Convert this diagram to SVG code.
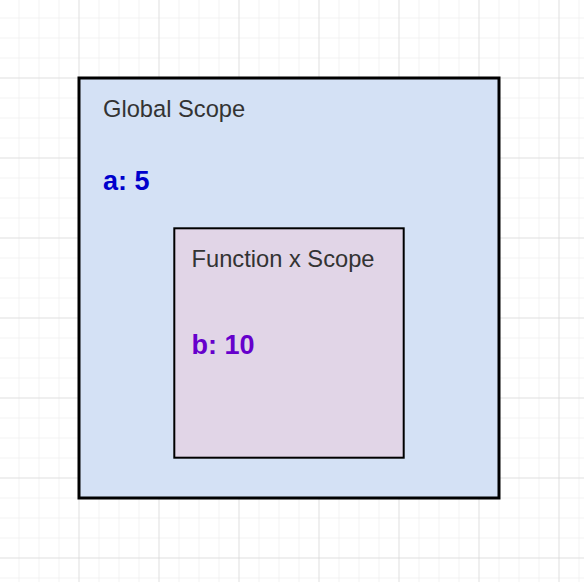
<svg xmlns="http://www.w3.org/2000/svg" width="584" height="582" viewBox="0 0 584 582">
  <defs>
    <pattern id="minor" x="-0.5" y="-1.5" width="20" height="20" patternUnits="userSpaceOnUse">
      <path d="M20 0V20M0 20H20" fill="none" stroke="#f0f0f0" stroke-width="1.5"/>
    </pattern>
    <pattern id="major" x="-0.5" y="-1.5" width="80" height="80" patternUnits="userSpaceOnUse">
      <path d="M80 0V80M0 80H80" fill="none" stroke="#d0d0d0" stroke-width="1"/>
    </pattern>
  </defs>
  <style>
    .label { font-family: "Liberation Sans", Arial, Helvetica, sans-serif; font-size: 23.7px; fill: #333333; }
    .var { font-family: "Liberation Sans", Arial, Helvetica, sans-serif; font-size: 27px; font-weight: bold; }
  </style>
  <rect width="584" height="582" fill="#ffffff"/>
  <rect width="584" height="582" fill="url(#minor)"/>
  <rect width="584" height="582" fill="url(#major)"/>
  <g id="global-scope">
    <rect x="79" y="78" width="420" height="420" fill="#d4e1f5" stroke="#000000" stroke-width="3"/>
    <text class="label" x="103" y="117">Global Scope</text>
    <text class="var" x="103" y="189.5" fill="#0000cc">a: 5</text>
  </g>
  <g id="function-x-scope">
    <rect x="174.3" y="228.3" width="229.4" height="229.4" fill="#e1d5e7" stroke="#000000" stroke-width="2"/>
    <text class="label" x="191.5" y="267">Function x Scope</text>
    <text class="var" x="191.5" y="354" fill="#6600cc">b: 10</text>
  </g>
  <g id="connectors"/>
</svg>
